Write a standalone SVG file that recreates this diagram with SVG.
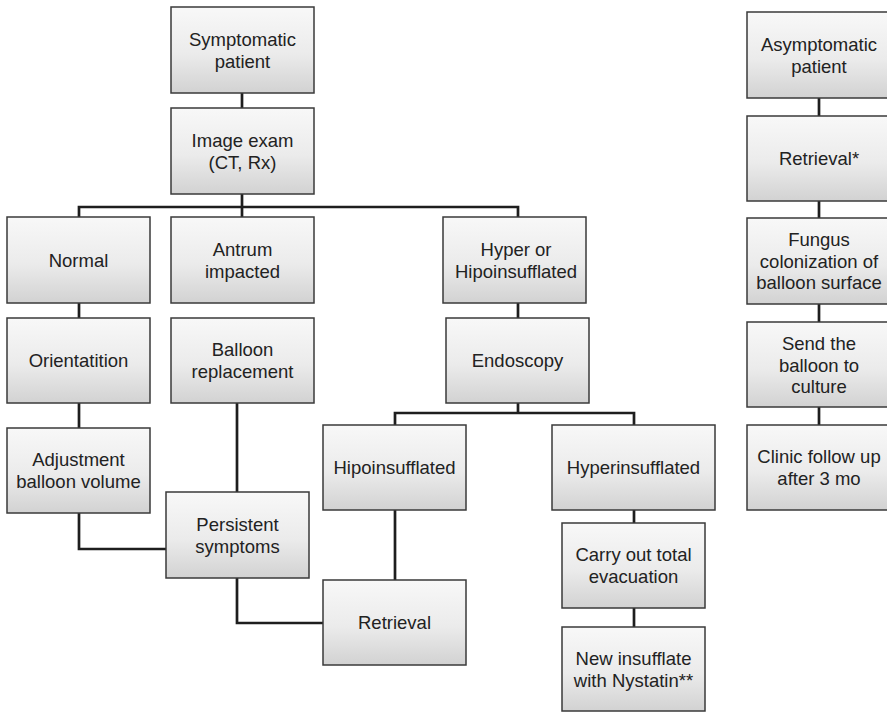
<svg xmlns="http://www.w3.org/2000/svg" width="887" height="712" viewBox="0 0 887 712">
  <defs>
    <linearGradient id="boxFill" x1="0" y1="0" x2="0" y2="1">
      <stop offset="0" stop-color="#f8f8f8"/>
      <stop offset="0.55" stop-color="#ebebeb"/>
      <stop offset="1" stop-color="#d2d2d2"/>
    </linearGradient>
  </defs>
  <style>
    .box { fill: url(#boxFill); stroke: #3a3a3a; stroke-width: 1.5; }
    .lbl { font-family: "Liberation Sans", Arial, sans-serif; font-size: 18.5px; fill: #222; text-anchor: middle; }
    .wire { fill: none; stroke: #1e1e1e; stroke-width: 2.7; stroke-linejoin: miter; }
  </style>
  <rect width="887" height="712" fill="#ffffff"/>

  <!-- connectors -->
  <g id="connectors">
    <path class="wire" d="M242 93V108"/>
    <path class="wire" d="M242 194V217"/>
    <path class="wire" d="M79 217V207H518V217"/>
    <path class="wire" d="M79 303V318"/>
    <path class="wire" d="M79 403V428"/>
    <path class="wire" d="M79 513V549H166"/>
    <path class="wire" d="M237 403V492"/>
    <path class="wire" d="M237 578V623H323"/>
    <path class="wire" d="M518 303V318"/>
    <path class="wire" d="M518 403V413"/>
    <path class="wire" d="M395 425V413H634V425"/>
    <path class="wire" d="M395 510V580"/>
    <path class="wire" d="M634 510V523"/>
    <path class="wire" d="M634 608V627"/>
    <path class="wire" d="M819 98V116"/>
    <path class="wire" d="M819 201V218"/>
    <path class="wire" d="M819 304V322"/>
    <path class="wire" d="M819 407V425"/>
  </g>

  <!-- symptomatic branch -->
  <g id="symptomatic">
    <rect class="box" x="171" y="7" width="143" height="86"/>
    <text class="lbl" x="242.5" y="46">Symptomatic</text>
    <text class="lbl" x="242.5" y="67.5">patient</text>
  </g>
  <g id="image-exam">
    <rect class="box" x="171" y="108" width="143" height="86"/>
    <text class="lbl" x="242.5" y="147">Image exam</text>
    <text class="lbl" x="242.5" y="168.5">(CT, Rx)</text>
  </g>
  <g id="normal">
    <rect class="box" x="7" y="217" width="143" height="86"/>
    <text class="lbl" x="78.5" y="267">Normal</text>
  </g>
  <g id="antrum">
    <rect class="box" x="171" y="217" width="143" height="86"/>
    <text class="lbl" x="242.5" y="256">Antrum</text>
    <text class="lbl" x="242.5" y="277.5">impacted</text>
  </g>
  <g id="hyper-hipo">
    <rect class="box" x="443" y="217" width="143" height="86"/>
    <text class="lbl" x="516" y="256">Hyper or</text>
    <text class="lbl" x="516" y="277.5">Hipoinsufflated</text>
  </g>
  <g id="orientation">
    <rect class="box" x="7" y="318" width="143" height="85"/>
    <text class="lbl" x="78.5" y="367">Orientatition</text>
  </g>
  <g id="balloon-replacement">
    <rect class="box" x="171" y="318" width="143" height="85"/>
    <text class="lbl" x="242.5" y="356">Balloon</text>
    <text class="lbl" x="242.5" y="377.5">replacement</text>
  </g>
  <g id="endoscopy">
    <rect class="box" x="446" y="318" width="143" height="85"/>
    <text class="lbl" x="517.5" y="367">Endoscopy</text>
  </g>
  <g id="adjustment">
    <rect class="box" x="7" y="428" width="143" height="85"/>
    <text class="lbl" x="78.5" y="466">Adjustment</text>
    <text class="lbl" x="78.5" y="487.5">balloon volume</text>
  </g>
  <g id="hipoinsufflated">
    <rect class="box" x="323" y="425" width="143" height="85"/>
    <text class="lbl" x="394.5" y="474">Hipoinsufflated</text>
  </g>
  <g id="hyperinsufflated">
    <rect class="box" x="552" y="425" width="163" height="85"/>
    <text class="lbl" x="633.5" y="474">Hyperinsufflated</text>
  </g>
  <g id="persistent">
    <rect class="box" x="166" y="492" width="143" height="86"/>
    <text class="lbl" x="237.5" y="531">Persistent</text>
    <text class="lbl" x="237.5" y="552.5">symptoms</text>
  </g>
  <g id="carry-out">
    <rect class="box" x="562" y="523" width="143" height="85"/>
    <text class="lbl" x="633.5" y="561">Carry out total</text>
    <text class="lbl" x="633.5" y="582.5">evacuation</text>
  </g>
  <g id="retrieval">
    <rect class="box" x="323" y="580" width="143" height="85"/>
    <text class="lbl" x="394.5" y="629">Retrieval</text>
  </g>
  <g id="new-insufflate">
    <rect class="box" x="562" y="627" width="143" height="84"/>
    <text class="lbl" x="633.5" y="665">New insufflate</text>
    <text class="lbl" x="633.5" y="686.5">with Nystatin**</text>
  </g>

  <!-- asymptomatic branch -->
  <g id="asymptomatic">
    <rect class="box" x="747" y="12" width="143" height="86"/>
    <text class="lbl" x="819" y="51">Asymptomatic</text>
    <text class="lbl" x="819" y="72.5">patient</text>
  </g>
  <g id="retrieval-star">
    <rect class="box" x="747" y="116" width="143" height="85"/>
    <text class="lbl" x="819" y="165">Retrieval*</text>
  </g>
  <g id="fungus">
    <rect class="box" x="747" y="218" width="143" height="86"/>
    <text class="lbl" x="819" y="246">Fungus</text>
    <text class="lbl" x="819" y="267.5">colonization of</text>
    <text class="lbl" x="819" y="289">balloon surface</text>
  </g>
  <g id="culture">
    <rect class="box" x="747" y="322" width="143" height="85"/>
    <text class="lbl" x="819" y="350">Send the</text>
    <text class="lbl" x="819" y="371.5">balloon to</text>
    <text class="lbl" x="819" y="393">culture</text>
  </g>
  <g id="follow-up">
    <rect class="box" x="747" y="425" width="143" height="85"/>
    <text class="lbl" x="819" y="463">Clinic follow up</text>
    <text class="lbl" x="819" y="484.5">after 3 mo</text>
  </g>
</svg>
